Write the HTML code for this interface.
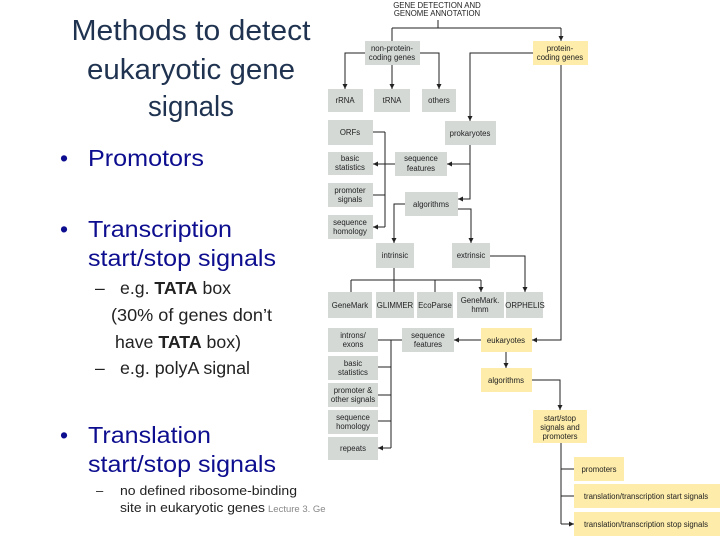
<!DOCTYPE html>
<html><head><meta charset="utf-8"><style>
html,body{margin:0;padding:0;background:#fff}
svg{display:block}
.t{font-family:"Liberation Sans",sans-serif}
.b{fill:#d4d9d6}
.y{fill:#fdecaa}
.l{font-family:"Liberation Sans",sans-serif;font-size:7.8px;fill:#222;text-anchor:middle}
.c{stroke:#222;stroke-width:1;fill:none}
</style></head><body>
<svg width="720" height="540" viewBox="0 0 720 540" xmlns="http://www.w3.org/2000/svg">
<defs><marker id="a" markerWidth="6" markerHeight="6" refX="5" refY="3" orient="auto" markerUnits="userSpaceOnUse"><path d="M0,0.5 L5,3 L0,5.5z" fill="#222"/></marker></defs>
<g class="t" fill="#1f3350" font-size="29" text-anchor="middle">
<text x="191" y="40" textLength="239" lengthAdjust="spacingAndGlyphs">Methods to detect</text>
<text x="191" y="79" textLength="208" lengthAdjust="spacingAndGlyphs">eukaryotic gene</text>
<text x="191" y="116" textLength="86" lengthAdjust="spacingAndGlyphs">signals</text>
</g>
<g class="t" fill="#0d0d8f" font-size="23">
<text x="60" y="166">•</text><text x="88" y="166" textLength="116" lengthAdjust="spacingAndGlyphs">Promotors</text>
<text x="60" y="237">•</text><text x="88" y="237" textLength="144" lengthAdjust="spacingAndGlyphs">Transcription</text>
<text x="88" y="266" textLength="188" lengthAdjust="spacingAndGlyphs">start/stop signals</text>
<text x="60" y="443">•</text><text x="88" y="443" textLength="123" lengthAdjust="spacingAndGlyphs">Translation</text>
<text x="88" y="472" textLength="188" lengthAdjust="spacingAndGlyphs">start/stop signals</text>
</g>
<g class="t" fill="#222" font-size="17.5">
<text x="95" y="294">–</text><text x="120" y="294" textLength="111" lengthAdjust="spacingAndGlyphs">e.g. <tspan font-weight="bold">TATA</tspan> box</text>
<text x="111" y="321" textLength="161" lengthAdjust="spacingAndGlyphs">(30% of genes don’t</text>
<text x="115" y="348" textLength="126" lengthAdjust="spacingAndGlyphs">have <tspan font-weight="bold">TATA</tspan> box)</text>
<text x="95" y="374">–</text><text x="120" y="374" textLength="130" lengthAdjust="spacingAndGlyphs">e.g. polyA signal</text>
</g>
<g class="t" fill="#222" font-size="13">
<text x="96" y="495">–</text><text x="120" y="495" textLength="177" lengthAdjust="spacingAndGlyphs">no defined ribosome-binding</text>
<text x="120" y="512" textLength="145" lengthAdjust="spacingAndGlyphs">site in eukaryotic genes</text>
</g>
<text class="t" x="268" y="512" font-size="9.5" fill="#888">Lecture 3. Ge</text>

<text class="l" x="437" y="8" font-size="8">GENE DETECTION AND</text>
<text class="l" x="437" y="16" font-size="8">GENOME ANNOTATION</text>

<g>
<rect class="b" x="365" y="41" width="55" height="24"/>
<rect class="y" x="533" y="41" width="55" height="24"/>
<rect class="b" x="328" y="89" width="35" height="23"/>
<rect class="b" x="374" y="89" width="36" height="23"/>
<rect class="b" x="422" y="89" width="34" height="23"/>
<rect class="b" x="328" y="120" width="45" height="25"/>
<rect class="b" x="445" y="121" width="51" height="24"/>
<rect class="b" x="328" y="152" width="45" height="23"/>
<rect class="b" x="395" y="152" width="52" height="24"/>
<rect class="b" x="328" y="183" width="45" height="24"/>
<rect class="b" x="405" y="192" width="53" height="24"/>
<rect class="b" x="328" y="215" width="45" height="24"/>
<rect class="b" x="376" y="243" width="38" height="25"/>
<rect class="b" x="452" y="243" width="38" height="25"/>
<rect class="b" x="328" y="292" width="44" height="26"/>
<rect class="b" x="376" y="292" width="38" height="26"/>
<rect class="b" x="417" y="292" width="36" height="26"/>
<rect class="b" x="457" y="292" width="47" height="26"/>
<rect class="b" x="506" y="292" width="37" height="26"/>
<rect class="b" x="328" y="328" width="50" height="24"/>
<rect class="b" x="402" y="328" width="52" height="24"/>
<rect class="y" x="481" y="328" width="51" height="24"/>
<rect class="b" x="328" y="356" width="50" height="24"/>
<rect class="b" x="328" y="383" width="50" height="24"/>
<rect class="b" x="328" y="410" width="50" height="24"/>
<rect class="b" x="328" y="437" width="50" height="23"/>
<rect class="y" x="481" y="368" width="51" height="24"/>
<rect class="y" x="533" y="410" width="54" height="33"/>
<rect class="y" x="574" y="457" width="50" height="24"/>
<rect class="y" x="574" y="484" width="146" height="24"/>
<rect class="y" x="574" y="512" width="146" height="24"/>
</g>
<g class="l">
<text x="392" y="51">non-protein-</text><text x="392" y="60">coding genes</text>
<text x="560" y="51">protein-</text><text x="560" y="60">coding genes</text>
<text x="345" y="103">rRNA</text><text x="392" y="103">tRNA</text><text x="439" y="103">others</text>
<text x="350" y="135">ORFs</text><text x="470" y="136">prokaryotes</text>
<text x="350" y="161">basic</text><text x="350" y="170">statistics</text>
<text x="421" y="161">sequence</text><text x="421" y="171">features</text>
<text x="350" y="193">promoter</text><text x="350" y="202">signals</text>
<text x="431" y="207">algorithms</text>
<text x="350" y="225">sequence</text><text x="350" y="234">homology</text>
<text x="395" y="258">intrinsic</text><text x="471" y="258">extrinsic</text>
<text x="350" y="308">GeneMark</text><text x="395" y="308">GLIMMER</text><text x="435" y="308">EcoParse</text>
<text x="480" y="303">GeneMark.</text><text x="480" y="312">hmm</text><text x="525" y="308">ORPHELIS</text>
<text x="353" y="338">introns/</text><text x="353" y="347">exons</text>
<text x="428" y="338">sequence</text><text x="428" y="347">features</text>
<text x="506" y="343">eukaryotes</text>
<text x="353" y="366">basic</text><text x="353" y="375">statistics</text>
<text x="353" y="393">promoter &amp;</text><text x="353" y="402">other signals</text>
<text x="353" y="420">sequence</text><text x="353" y="429">homology</text>
<text x="353" y="451">repeats</text>
<text x="506" y="383">algorithms</text>
<text x="560" y="421">start/stop</text><text x="560" y="430">signals and</text><text x="560" y="439">promoters</text>
<text x="599" y="472">promoters</text>
<text x="646" y="499">translation/transcription start signals</text>
<text x="646" y="527">translation/transcription stop signals</text>
</g>
<g class="c">
<path d="M438,20V28M392,28H561"/>
<path d="M392,28V41M561,28V41" marker-end="url(#a)"/>
<path d="M365,53H345V89" marker-end="url(#a)"/>
<path d="M392,65V89" marker-end="url(#a)"/>
<path d="M420,53H439V89" marker-end="url(#a)"/>
<path d="M533,53H470V121" marker-end="url(#a)"/>
<path d="M561,65V340H532" marker-end="url(#a)"/>
<path d="M470,145V199H458" marker-end="url(#a)"/>
<path d="M470,164H447" marker-end="url(#a)"/>
<path d="M395,164H373" marker-end="url(#a)"/>
<path d="M385,132V227"/>
<path d="M385,132H373M385,195H373M385,227H373" marker-end="url(#a)"/>
<path d="M405,204H394V243" marker-end="url(#a)"/>
<path d="M458,209H471V243" marker-end="url(#a)"/>
<path d="M394,268V280M351,280H481"/>
<path d="M351,280V292M394,280V292M435,280V292M481,280V292" marker-end="url(#a)"/>
<path d="M490,256H525V292" marker-end="url(#a)"/>
<path d="M481,340H454" marker-end="url(#a)"/>
<path d="M402,340H391V448"/>
<path d="M391,340H378M391,367H378M391,395H378M391,421H378M391,448H378" marker-end="url(#a)"/>
<path d="M506,352V368" marker-end="url(#a)"/>
<path d="M532,380H560V410" marker-end="url(#a)"/>
<path d="M561,443V524"/>
<path d="M561,469H574M561,496H574M561,524H574" marker-end="url(#a)"/>
</g>
</svg>
</body></html>
